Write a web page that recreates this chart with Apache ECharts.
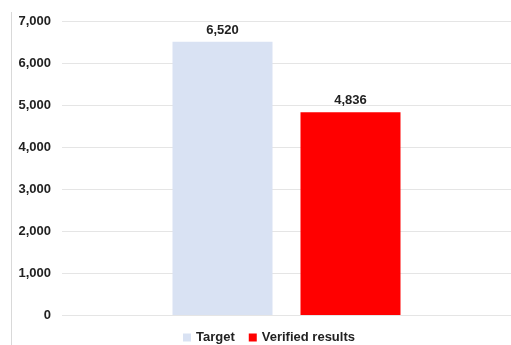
<!DOCTYPE html>
<html>
<head>
<meta charset="utf-8">
<script src="https://cdn.jsdelivr.net/npm/echarts@6/dist/echarts.min.js"></script>
<style>
html, body { margin: 0; padding: 0; background: #fff; }
#chart { width: 511px; height: 345px; }
</style>
</head>
<body>
<div id="chart"></div>
<script>
const categories = [''];
const seriesNames = ['Target', 'Verified results'];
const targetValues = [6520];
const verifiedValues = [4836];

const chart = echarts.init(document.getElementById('chart'));

const valueLabel = {
    show: true, position: 'top', distance: 5,
    color: '#222', fontWeight: 'bold', fontSize: 13,
    formatter: p => p.value.toLocaleString('en-US')
};

const option = {
    animation: false,
    textStyle: { fontFamily: 'Liberation Sans, Arial, sans-serif' },
    grid: { left: 62, right: 0, top: 21.5, bottom: 30 },
    graphic: [{
        type: 'line',
        shape: { x1: 11.5, y1: 12, x2: 11.5, y2: 345 },
        style: { stroke: '#d9d9d9', lineWidth: 1 }
    }],
    legend: {
        data: seriesNames,
        left: 178,
        top: 326,
        itemWidth: 8,
        itemHeight: 8,
        itemGap: 14,
        icon: 'rect',
        textStyle: { color: '#222', fontWeight: 'bold', fontSize: 13 }
    },
    xAxis: {
        type: 'category',
        data: categories,
        axisLine: { show: false },
        axisTick: { show: false },
        axisLabel: { show: false }
    },
    yAxis: {
        type: 'value',
        min: 0,
        max: 7000,
        interval: 1000,
        axisLine: { show: false },
        axisTick: { show: false },
        splitLine: { lineStyle: { color: '#e5e5e5', width: 1 } },
        axisLabel: {
            margin: 11,
            color: '#222',
            fontWeight: 'bold',
            fontSize: 13,
            formatter: v => v.toLocaleString('en-US')
        }
    },
    series: [
        {
            name: seriesNames[0],
            type: 'bar',
            data: targetValues,
            barWidth: 100,
            barGap: '28%',
            itemStyle: { color: '#d9e2f3' },
            label: valueLabel
        },
        {
            name: seriesNames[1],
            type: 'bar',
            data: verifiedValues,
            barWidth: 100,
            itemStyle: { color: '#ff0000' },
            label: valueLabel
        }
    ]
};

chart.setOption(option);
</script>
</body>
</html>
